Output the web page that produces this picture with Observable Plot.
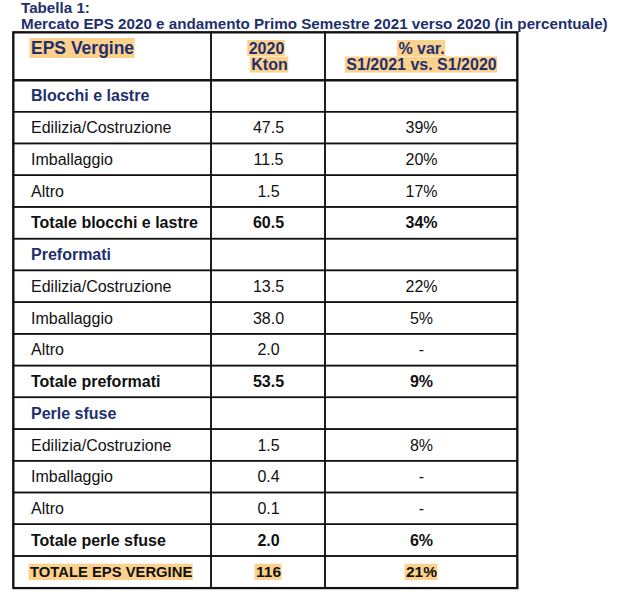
<!DOCTYPE html>
<html><head><meta charset="utf-8">
<script src="https://cdn.jsdelivr.net/npm/d3@7"></script>
<script src="https://cdn.jsdelivr.net/npm/@observablehq/plot@0.6"></script>
<style>
body{margin:0;background:#fff;font-family:"Liberation Sans",Arial,sans-serif;}
#title{height:30px;padding-left:21px;box-sizing:border-box;color:#1f2f6e;font-weight:bold;font-size:15.2px;line-height:15.5px;white-space:nowrap;}
#chart svg{display:block;}
</style></head><body>
<div id="title"><div>Tabella 1:</div><div>Mercato EPS 2020 e andamento Primo Semestre 2021 verso 2020 (in percentuale)</div></div>
<div id="chart"></div>
<script>
// ---- data ----
const headerLabel = ["EPS Vergine"];
const headerKton = ["2020", "Kton"];
const headerVar = ["% var.", "S1/2021 vs. S1/2020"];
const labels = ["Blocchi e lastre","Edilizia/Costruzione","Imballaggio","Altro","Totale blocchi e lastre",
  "Preformati","Edilizia/Costruzione","Imballaggio","Altro","Totale preformati",
  "Perle sfuse","Edilizia/Costruzione","Imballaggio","Altro","Totale perle sfuse","TOTALE EPS VERGINE"];
const kton = ["","47.5","11.5","1.5","60.5","","13.5","38.0","2.0","53.5","","1.5","0.4","0.1","2.0","116"];
const variation = ["","39%","20%","17%","34%","","22%","5%","-","9%","","8%","-","-","6%","21%"];
const rowKinds = ["section","item","item","item","total","section","item","item","item","total",
  "section","item","item","item","total","grand"];

// ---- layout ----
const FONT = "'Liberation Sans', Arial, sans-serif";
const NAVY = "#1f2f6e", INK = "#111111", HIGHLIGHT = "#fcd18c";
const colEdges = [0, 198, 312, 504];
const headerH = 48, tableH = 555.7, rowH = (tableH - headerH) / labels.length;
const labelX = 17.5;
const col2C = (colEdges[1] + colEdges[2]) / 2, col3C = (colEdges[2] + colEdges[3]) / 2;

const rows = labels.map((label, i) => ({
  i, label, kton: kton[i], variation: variation[i], kind: rowKinds[i],
  y1: headerH + i * rowH, y2: headerH + (i + 1) * rowH, yc: headerH + (i + 0.5) * rowH
}));

const cells = [];
[{y1: 0, y2: headerH}, ...rows].forEach(r => {
  for (let c = 0; c < 3; c++) cells.push({x1: colEdges[c], x2: colEdges[c + 1], y1: r.y1, y2: r.y2});
});

const ctx = document.createElement("canvas").getContext("2d");
function textWidth(s, size, weight) { ctx.font = `${weight} ${size}px ${FONT}`; return ctx.measureText(s).width; }
function box(s, x, anchor, yc, size, half = 0.52, pad = 1) {
  const w = textWidth(s, size, "bold");
  const x0 = anchor === "middle" ? x - w / 2 : x;
  return {x1: x0 - pad, x2: x0 + w + pad, y1: yc - size * half, y2: yc + size * half};
}

// header texts
const hLine1 = 16, hLine2 = 32.5;
const headerTexts = [
  {text: headerLabel[0], x: labelX, y: hLine1, anchor: "start", size: 17.5, half: 0.57},
  {text: headerKton[0], x: col2C - 2, y: hLine1, anchor: "middle", size: 16, half: 0.5},
  {text: headerKton[1], x: col2C + 1, y: hLine2, anchor: "middle", size: 16, half: 0.5},
  {text: headerVar[0], x: col3C, y: hLine1, anchor: "middle", size: 16, half: 0.5},
  {text: headerVar[1], x: col3C, y: hLine2, anchor: "middle", size: 16, half: 0.5}
];
const grand = rows.find(r => r.kind === "grand");
const highlights = [
  ...headerTexts.map(h => box(h.text, h.x, h.anchor, h.y, h.size, h.half)),
  box(grand.label, labelX - 1, "start", grand.yc, 14.8, 0.55),
  box(grand.kton, col2C, "middle", grand.yc, 15.5, 0.52),
  box(grand.variation, col3C, "middle", grand.yc, 15.5, 0.52)
];

const sections = rows.filter(r => r.kind === "section");
const items = rows.filter(r => r.kind === "item");
const totals = rows.filter(r => r.kind === "total");

const W = 629, H = 570;
const chart = Plot.plot({
  width: W, height: H,
  marginLeft: 13, marginRight: W - 517, marginTop: 2, marginBottom: H - 2 - tableH,
  style: {fontFamily: FONT, background: "white", overflow: "visible"},
  x: {domain: [0, colEdges[3]], axis: null},
  y: {domain: [0, tableH], reverse: true, axis: null},
  marks: [
    Plot.rect(highlights, {x1: "x1", x2: "x2", y1: "y1", y2: "y2", fill: HIGHLIGHT}),
    Plot.rect(cells, {x1: "x1", x2: "x2", y1: "y1", y2: "y2", fill: "none", stroke: INK, strokeWidth: 1.5}),
    Plot.ruleY([headerH], {stroke: INK, strokeWidth: 2}),
    Plot.frame({stroke: INK, strokeWidth: 2}),
    // header
    Plot.text(headerTexts.filter(h => h.anchor === "start"), {x: "x", y: "y", text: "text", textAnchor: "start", fontSize: 17.5, fontWeight: "bold", fill: NAVY}),
    Plot.text(headerTexts.filter(h => h.anchor === "middle"), {x: "x", y: "y", text: "text", textAnchor: "middle", fontSize: 16, fontWeight: "bold", fill: NAVY}),
    // sections
    Plot.text(sections, {x: labelX, y: "yc", text: "label", textAnchor: "start", fontSize: 16, fontWeight: "bold", fill: NAVY}),
    // items
    Plot.text(items, {x: labelX, y: "yc", text: "label", textAnchor: "start", fontSize: 16, fill: INK}),
    Plot.text(items, {x: col2C, y: "yc", text: "kton", textAnchor: "middle", fontSize: 16, fill: INK}),
    Plot.text(items, {x: col3C, y: "yc", text: "variation", textAnchor: "middle", fontSize: 16, fill: INK}),
    // totals
    Plot.text(totals, {x: labelX, y: "yc", text: "label", textAnchor: "start", fontSize: 16, fontWeight: "bold", fill: INK}),
    Plot.text(totals, {x: col2C, y: "yc", text: "kton", textAnchor: "middle", fontSize: 16, fontWeight: "bold", fill: INK}),
    Plot.text(totals, {x: col3C, y: "yc", text: "variation", textAnchor: "middle", fontSize: 16, fontWeight: "bold", fill: INK}),
    // grand total
    Plot.text([grand], {x: labelX - 1, y: "yc", text: "label", textAnchor: "start", fontSize: 14.8, fontWeight: "bold", fill: INK}),
    Plot.text([grand], {x: col2C, y: "yc", text: "kton", textAnchor: "middle", fontSize: 15.5, fontWeight: "bold", fill: INK}),
    Plot.text([grand], {x: col3C, y: "yc", text: "variation", textAnchor: "middle", fontSize: 15.5, fontWeight: "bold", fill: INK})
  ]
});
document.getElementById("chart").appendChild(chart);
</script>
</body></html>
